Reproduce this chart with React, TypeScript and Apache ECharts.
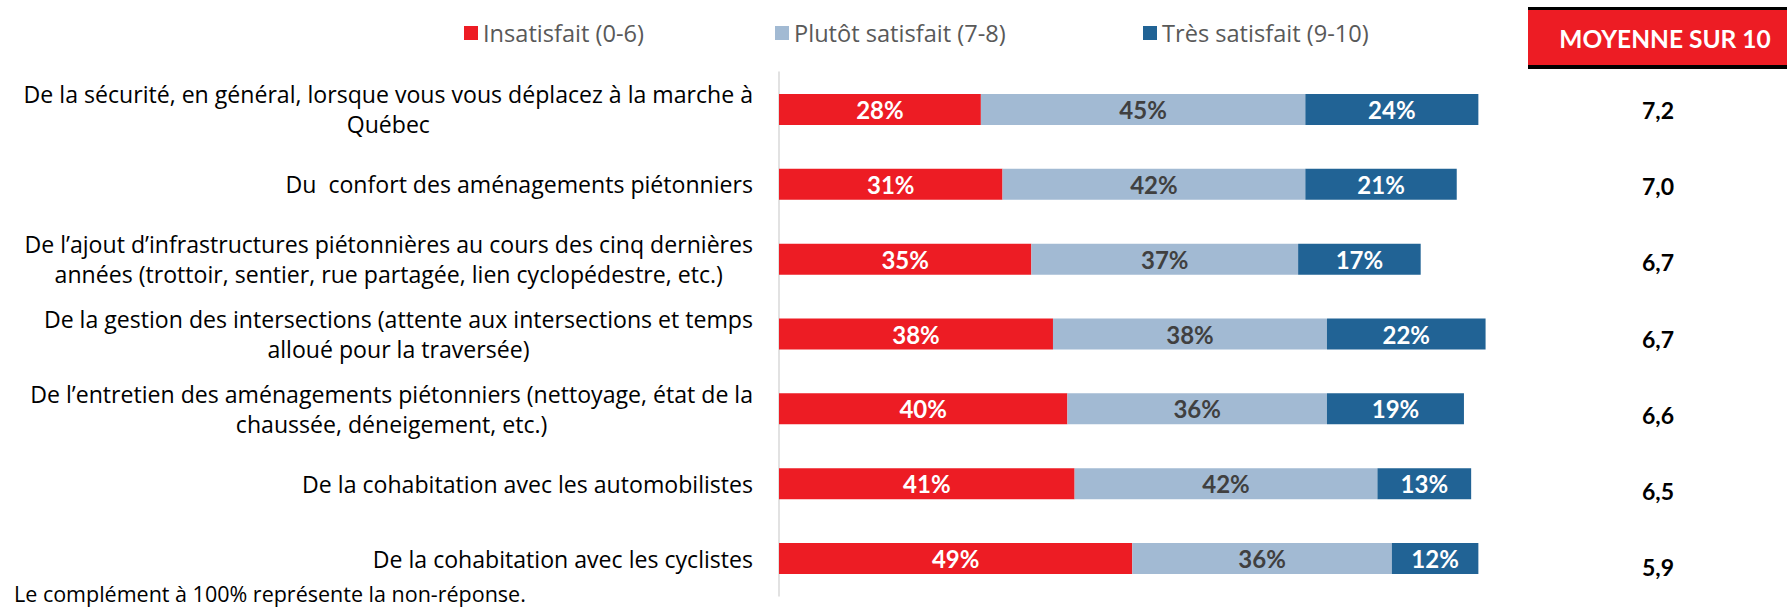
import React, { useEffect, useRef } from "react";
import * as echarts from "echarts";

const categories = [
  "De la sécurité, en général, lorsque vous vous déplacez à la marche à\nQuébec",
  "Du  confort des aménagements piétonniers",
  "De l’ajout d’infrastructures piétonnières au cours des cinq dernières\nannées (trottoir, sentier, rue partagée, lien cyclopédestre, etc.)",
  "De la gestion des intersections (attente aux intersections et temps\nalloué pour la traversée)",
  "De l’entretien des aménagements piétonniers (nettoyage, état de la\nchaussée, déneigement, etc.)",
  "De la cohabitation avec les automobilistes",
  "De la cohabitation avec les cyclistes",
];
const insatisfait = [28, 31, 35, 38, 40, 41, 49];
const plutotSatisfait = [45, 42, 37, 38, 36, 42, 36];
const tresSatisfait = [24, 21, 17, 22, 19, 13, 12];
const moyennes = ["7,2", "7,0", "6,7", "6,7", "6,6", "6,5", "5,9"];
const seriesNames = ["Insatisfait (0-6)", "Plutôt satisfait (7-8)", "Très satisfait (9-10)"];
const boxTitle = "MOYENNE SUR 10";
const footnote = "Le complément à 100% représente la non-réponse.";

const COLORS = ["#ED1C24", "#A2BAD3", "#216395"];
const LABEL_COLORS = ["#FFFFFF", "#404040", "#FFFFFF"];
const LEGEND_LEFT = [464, 775, 1143];
const FONT = "Lato";
const TEXT_FONT = "Open Sans";

export default function App() {
  const ref = useRef<HTMLDivElement>(null);
  useEffect(() => {
    if (!ref.current) return;
    const chart = echarts.init(ref.current, null, { renderer: "svg" });
    const dataSets = [insatisfait, plutotSatisfait, tresSatisfait];
    chart.setOption({
      animation: false,
      textStyle: { fontFamily: TEXT_FONT },
      legend: seriesNames.map((n, i) => ({
        data: [n],
        left: LEGEND_LEFT[i],
        top: 21,
        padding: 0,
        icon: "rect",
        itemWidth: 14,
        itemHeight: 14,
        selectedMode: false,
        textStyle: { fontSize: 23.6, color: "#595959", fontFamily: TEXT_FONT },
      })),
      grid: [
        { left: 779, top: 72, width: 721, height: 524 },
        { left: 1658, top: 72, width: 10, height: 533 },
      ],
      xAxis: [
        { type: "value", min: 0, max: 100, show: false, gridIndex: 0 },
        { type: "value", min: 0, max: 1, show: false, gridIndex: 1 },
      ],
      yAxis: [
        {
          type: "category",
          gridIndex: 0,
          inverse: true,
          data: categories,
          axisLine: { show: true, lineStyle: { color: "#D9D9D9", width: 1.5 } },
          axisTick: { show: false },
          splitLine: { show: false },
          axisLabel: {
            margin: 26,
            fontSize: 23.1,
            color: "#000",
            fontFamily: TEXT_FONT,
            lineHeight: 30,
            formatter: (v: string) =>
              v.split("\n").map((l) => "{c|" + l + "}").join("\n"),
            rich: {
              c: { align: "center", fontSize: 23.1, lineHeight: 30, color: "#000", fontFamily: TEXT_FONT },
            },
          },
        },
        {
          type: "category",
          gridIndex: 1,
          inverse: true,
          position: "left",
          data: moyennes,
          axisLine: { show: false },
          axisTick: { show: false },
          splitLine: { show: false },
          axisLabel: {
            margin: 0,
            align: "center",
            fontSize: 23,
            fontWeight: "bold",
            color: "#000",
            fontFamily: FONT,
          },
        },
      ],
      series: dataSets.map((d, i) => ({
        name: seriesNames[i],
        type: "bar",
        stack: "total",
        xAxisIndex: 0,
        yAxisIndex: 0,
        barWidth: 31,
        data: d,
        itemStyle: { color: COLORS[i] },
        label: {
          show: true,
          position: "inside",
          formatter: "{c}%",
          fontSize: 24,
          fontWeight: "bold",
          fontFamily: FONT,
          color: LABEL_COLORS[i],
        },
      })),
      graphic: [
        { type: "rect", shape: { x: 1528, y: 7, width: 270, height: 62 }, style: { fill: "#000" } },
        { type: "rect", shape: { x: 1528, y: 10, width: 270, height: 55 }, style: { fill: "#ED1C24" } },
        {
          type: "text",
          x: 1665,
          y: 38,
          style: {
            text: boxTitle,
            align: "center",
            verticalAlign: "middle",
            fontSize: 24.5,
            fontWeight: "bold",
            fontFamily: FONT,
            fill: "#FFFFFF",
          },
        },
        {
          type: "text",
          x: 14,
          y: 593,
          style: {
            text: footnote,
            align: "left",
            verticalAlign: "middle",
            fontSize: 21.5,
            fontFamily: TEXT_FONT,
            fill: "#000",
          },
        },
      ],
    });
    return () => chart.dispose();
  }, []);
  return (
    <div
      ref={ref}
      style={{ position: "fixed", left: 0, top: 0, width: 1787, height: 608, background: "#fff" }}
    />
  );
}
